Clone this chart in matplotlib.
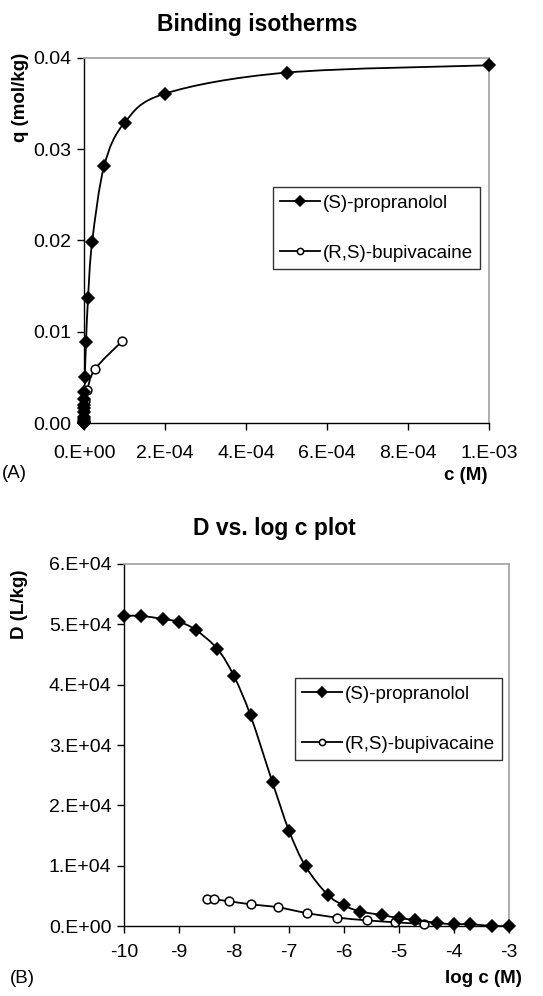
# Binding isotherms (A) and D vs. log c plot (B), two stacked panels.
import numpy as np
import matplotlib
matplotlib.use('Agg')
import matplotlib.pyplot as plt
from matplotlib.path import Path
from matplotlib.patches import PathPatch
from matplotlib.ticker import FuncFormatter, MultipleLocator

plt.rcParams['font.family'] = ['Liberation Sans', 'DejaVu Sans']

# ---- data ----
# (S)-propranolol concentrations (M), q (mol/kg) and D (L/kg)
prop_c = [1e-10, 2e-10, 5e-10, 1e-9, 2e-9, 5e-9, 1e-8, 2e-8, 5e-8, 1e-7, 2e-7,
          5e-7, 1e-6, 2e-6, 5e-6, 1e-5, 2e-5, 5e-5, 1e-4, 2e-4, 5e-4, 1e-3]
prop_q = [5e-6, 1e-5, 2.5e-5, 5e-5, 1e-4, 2.3e-4, 4.1e-4, 7e-4, 1.2e-3, 1.6e-3,
          2.0e-3, 2.6e-3, 3.4e-3, 5.0e-3, 8.9e-3, 0.0137, 0.0198, 0.0282,
          0.0329, 0.0361, 0.0384, 0.0392]
prop_logc = [-10, -9.7, -9.3, -9, -8.7, -8.3, -8, -7.7, -7.3, -7, -6.7, -6.3,
             -6, -5.7, -5.3, -5, -4.7, -4.3, -4, -3.7, -3.3, -3]
prop_D = [51400, 51400, 50900, 50400, 49100, 45900, 41400, 34900, 23800,
          15800, 9900, 5200, 3400, 2400, 1800, 1300, 1000, 500, 300, 300, 0, 0]

# (R,S)-bupivacaine
bup_c = [2e-8, 2e-7, 1e-6, 3e-6, 8e-6, 2.7e-5, 9.5e-5]
bup_q = [1e-4, 5e-4, 1.4e-3, 2.4e-3, 3.6e-3, 5.9e-3, 9.0e-3]
bup_logc = [-8.49, -8.36, -8.09, -7.70, -7.20, -6.68, -6.13, -5.58, -5.07, -4.54]
bup_D = [4400, 4400, 4100, 3600, 3100, 2150, 1400, 940, 610, 330]

W, H = 543, 996


def smooth_path(x, y):
    # Excel-like smoothed line: Catmull-Rom segments as cubic Beziers
    pts = np.column_stack([x, y]).astype(float)
    n = len(pts)
    verts = [pts[0]]
    codes = [Path.MOVETO]
    for i in range(n - 1):
        p0 = pts[max(i - 1, 0)]
        p1 = pts[i]
        p2 = pts[i + 1]
        p3 = pts[min(i + 2, n - 1)]
        verts += [p1 + (p2 - p0) / 6, p2 - (p3 - p1) / 6, p2]
        codes += [Path.CURVE4] * 3
    return Path(verts, codes)


def sci_fmt(v, pos):
    if v == 0:
        return '0.E+00'
    e = int(np.floor(np.log10(abs(v)) + 1e-9))
    m = v / 10 ** e
    return '%d.E%+03d' % (round(m), e)


def series(ax, x, y, marker, face, label, z):
    ax.add_patch(PathPatch(smooth_path(x, y), fill=False, edgecolor='black',
                           lw=1.3, zorder=z))
    ax.plot(x, y, linestyle='none', marker=marker, ms=6.3,
            mfc=face, mec='black', mew=1.1, zorder=z + 0.5, clip_on=False)
    # legend handle uses smaller markers, like the reference
    ms_leg = 5.2 if marker == 'D' else 4.5
    return plt.Line2D([], [], color='black', lw=1.3, marker=marker, ms=ms_leg,
                      mfc=face, mec='black', mew=1.1, label=label)


def style_axes(ax):
    for s in ['left', 'bottom']:
        ax.spines[s].set_color('black')
        ax.spines[s].set_linewidth(1.0)
    for s in ['top', 'right']:
        ax.spines[s].set_color('#a0a0a0')
        ax.spines[s].set_linewidth(1.2)
    ax.tick_params(direction='out', length=5, width=1, labelsize=14,
                   top=False, right=False, pad=4)


def add_legend(ax, handles, right_px, top_px):
    leg = ax.legend(handles=handles, loc='upper right',
                    bbox_to_anchor=(right_px / W, 1 - top_px / H),
                    bbox_transform=plt.gcf().transFigure,
                    fontsize=13.5, frameon=True, fancybox=False,
                    edgecolor='black', handlelength=2.1, handletextpad=0.15,
                    labelspacing=1.75, borderpad=0.4, borderaxespad=0)
    leg.get_frame().set_linewidth(1.0)


fig = plt.figure(figsize=(W / 100, H / 100), dpi=100)

# ---- (A) binding isotherms ----
ax1 = fig.add_axes([84 / W, 1 - 423 / H, 405 / W, 365 / H])
style_axes(ax1)
h2 = series(ax1, bup_c, bup_q, 'o', 'white', '(R,S)-bupivacaine', 3)
h1 = series(ax1, prop_c, prop_q, 'D', 'black', '(S)-propranolol', 4)
ax1.set_xlim(0, 1e-3)
ax1.set_ylim(0, 0.04)
ax1.xaxis.set_major_locator(MultipleLocator(2e-4))
ax1.yaxis.set_major_locator(MultipleLocator(0.01))
ax1.xaxis.set_major_formatter(FuncFormatter(sci_fmt))
ax1.yaxis.set_major_formatter(FuncFormatter(lambda v, p: '%.2f' % v))
ax1.tick_params(axis='x', pad=11)
add_legend(ax1, [h1, h2], 480, 187)

fig.text(257 / W, 1 - 24 / H, 'Binding isotherms', ha='center', va='center',
         fontsize=16.5, fontweight='bold')
fig.text(21 / W, 1 - 97 / H, 'q (mol/kg)', ha='center', va='center',
         rotation=90, fontsize=13.5, fontweight='bold')
fig.text(2 / W, 1 - 474 / H, '(A)', ha='left', va='center', fontsize=13.5)
fig.text(488 / W, 1 - 475 / H, 'c (M)', ha='right', va='center',
         fontsize=13.5, fontweight='bold')

# ---- (B) D vs. log c ----
ax2 = fig.add_axes([124 / W, 1 - 926 / H, 385 / W, 362 / H])
style_axes(ax2)
g2 = series(ax2, bup_logc, bup_D, 'o', 'white', '(R,S)-bupivacaine', 3)
g1 = series(ax2, prop_logc, prop_D, 'D', 'black', '(S)-propranolol', 4)
ax2.set_xlim(-10, -3)
ax2.set_ylim(0, 60000)
ax2.xaxis.set_major_locator(MultipleLocator(1))
ax2.yaxis.set_major_locator(MultipleLocator(10000))
ax2.yaxis.set_major_formatter(FuncFormatter(sci_fmt))
ax2.xaxis.set_major_formatter(FuncFormatter(lambda v, p: '%d' % v))
ax2.tick_params(axis='x', pad=8)
add_legend(ax2, [g1, g2], 502, 678)

fig.text(274 / W, 1 - 528 / H, 'D vs. log c plot', ha='center', va='center',
         fontsize=16.5, fontweight='bold')
fig.text(20 / W, 1 - 604 / H, 'D (L/kg)', ha='center', va='center',
         rotation=90, fontsize=13.5, fontweight='bold')
fig.text(10 / W, 1 - 978 / H, '(B)', ha='left', va='center', fontsize=13.5)
fig.text(522 / W, 1 - 978 / H, 'log c (M)', ha='right', va='center',
         fontsize=13.5, fontweight='bold')

fig.savefig('out.png', dpi=100)
